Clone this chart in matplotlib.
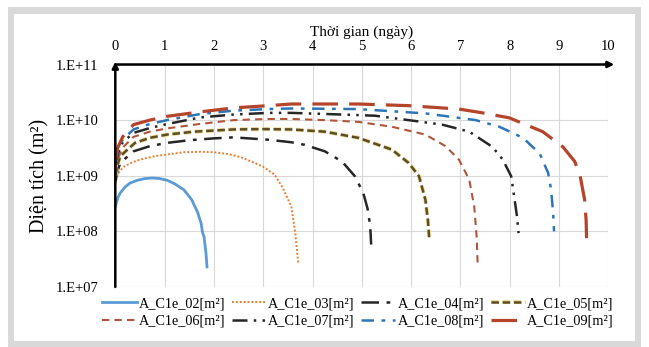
import matplotlib
matplotlib.use('Agg')
import matplotlib.pyplot as plt
import matplotlib.patheffects as pe
from matplotlib.patches import Rectangle

plt.rcParams['font.family'] = ['Liberation Serif', 'DejaVu Serif']

# du lieu doc tu hinh (thoi gian - ngay, dien tich - m2)
t02 = [0, 0.05, 0.1, 0.2, 0.3, 0.45, 0.6, 0.75, 0.9, 1.05, 1.2, 1.39, 1.55, 1.67, 1.74, 1.77, 1.80, 1.84, 1.86]
a02 = [2.8e8, 4.0e8, 4.9e8, 6.3e8, 7.4e8, 8.3e8, 8.9e8, 9.1e8, 8.9e8, 8.3e8, 7.2e8, 5.6e8, 3.7e8, 2.2e8, 1.4e8, 9.5e7, 8.0e7, 4.0e7, 2.3e7]

t03 = [0, 0.05, 0.17, 0.35, 0.5, 0.8, 1.1, 1.4, 1.73, 2.0, 2.3, 2.55, 2.76, 3.0, 3.23, 3.4, 3.57, 3.65, 3.71]
a03 = [7.1e8, 1.1e9, 1.45e9, 1.75e9, 1.95e9, 2.25e9, 2.45e9, 2.65e9, 2.7e9, 2.65e9, 2.45e9, 2.15e9, 1.8e9, 1.45e9, 1.05e9, 6.0e8, 2.8e8, 9.5e7, 2.7e7]

t04 = [0, 0.05, 0.1, 0.37, 0.7, 1.05, 1.5, 2.0, 2.4, 3.1, 3.57, 3.84, 4.25, 4.6, 4.86, 5.03, 5.12, 5.17, 5.19]
a04 = [7.9e8, 1.25e9, 1.7e9, 2.75e9, 3.4e9, 3.9e9, 4.35e9, 4.7e9, 4.9e9, 4.45e9, 4.0e9, 3.6e9, 2.75e9, 1.8e9, 9.8e8, 4.9e8, 2.5e8, 1.25e8, 5.8e7]

t05 = [0, 0.05, 0.1, 0.4, 0.7, 1.05, 1.6, 2.4, 3.0, 3.57, 4.25, 4.93, 5.61, 5.95, 6.16, 6.29, 6.34, 6.37]
a05 = [1.0e9, 1.6e9, 2.25e9, 3.9e9, 4.8e9, 5.5e9, 6.2e9, 6.8e9, 6.9e9, 6.8e9, 6.2e9, 4.8e9, 2.95e9, 1.7e9, 9.8e8, 3.7e8, 1.6e8, 7.0e7]

t06 = [0, 0.05, 0.15, 0.37, 0.7, 1.05, 1.7, 2.4, 3.1, 3.57, 4.25, 4.93, 5.61, 6.29, 6.7, 6.97, 7.18, 7.28, 7.33, 7.35]
a06 = [1.25e9, 2.0e9, 3.2e9, 5.0e9, 6.2e9, 7.1e9, 8.5e9, 1.0e10, 1.05e10, 1.05e10, 1.0e10, 9.3e9, 7.6e9, 5.5e9, 3.4e9, 1.95e9, 8.5e8, 2.8e8, 8.0e7, 2.6e7]

t07 = [0, 0.05, 0.15, 0.37, 0.7, 1.05, 1.73, 2.4, 3.1, 3.57, 4.6, 5.27, 5.95, 6.63, 7.18, 7.65, 7.86, 8.03, 8.1, 8.15, 8.18]
a07 = [1.6e9, 2.5e9, 4.0e9, 5.9e9, 7.2e9, 8.5e9, 1.12e10, 1.26e10, 1.35e10, 1.35e10, 1.26e10, 1.2e10, 1.0e10, 8.3e9, 6.2e9, 3.3e9, 1.95e9, 9.8e8, 3.7e8, 1.8e8, 9.3e7]

t08 = [0, 0.05, 0.15, 0.37, 0.7, 1.05, 1.73, 2.4, 3.1, 3.57, 4.93, 6.29, 7.31, 7.79, 8.27, 8.61, 8.78, 8.84, 8.88, 8.9]
a08 = [1.8e9, 2.8e9, 4.5e9, 6.8e9, 8.5e9, 1.0e10, 1.29e10, 1.48e10, 1.58e10, 1.62e10, 1.58e10, 1.32e10, 1.0e10, 7.6e9, 4.8e9, 2.5e9, 1.12e9, 5.6e8, 2.2e8, 1.0e8]

t09 = [0, 0.05, 0.15, 0.37, 0.7, 1.05, 1.73, 2.4, 3.1, 3.57, 4.93, 5.95, 6.97, 7.45, 7.99, 8.67, 9.08, 9.32, 9.43, 9.52, 9.55, 9.56]
a09 = [2.0e9, 3.2e9, 5.0e9, 8.3e9, 1.0e10, 1.17e10, 1.41e10, 1.66e10, 1.82e10, 1.95e10, 1.95e10, 1.82e10, 1.58e10, 1.35e10, 1.1e10, 6.2e9, 3.3e9, 1.8e9, 9.8e8, 3.7e8, 1.6e8, 7.1e7]

x_ticks = [0, 1, 2, 3, 4, 5, 6, 7, 8, 9, 10]
y_ticks = [1e7, 1e8, 1e9, 1e10, 1e11]
y_ticklabels = ['1.E+07', '1.E+08', '1.E+09', '1.E+10', '1.E+11']

fig = plt.figure(figsize=(6.49, 3.47), dpi=100)
fig.patch.set_facecolor('white')

# khung xam ben ngoai
W, H = 649, 347
fig.patches.append(Rectangle((8 / W, 0), 633 / W, 1 - 7 / H, transform=fig.transFigure,
                             facecolor='#d9d9d9', edgecolor='none', zorder=-10))
fig.patches.append(Rectangle((14 / W, 6 / H), 621 / W, 1 - 20 / H, transform=fig.transFigure,
                             facecolor='white', edgecolor='none', zorder=-9))

ax = fig.add_axes([115.3 / W, 1 - 287 / H, 493 / W, (287 - 64.5) / H])
ax.set_facecolor('none')
ax.set_yscale('log')
ax.set_xlim(0, 10)
ax.set_ylim(1e7, 1e11)

lines = []
l, = ax.plot(t02, a02, color='#5B9BD5', lw=2.0, ls='-', label='A_C1e_02[m²]')
lines.append(l)
l, = ax.plot(t03, a03, color='#ED7D31', lw=1.4, ls=(0, (1, 1)), label='A_C1e_03[m²]')
lines.append(l)
l, = ax.plot(t04, a04, color='#262626', lw=1.8, ls=(0, (7, 3, 1.5, 3)), label='A_C1e_04[m²]')
lines.append(l)
l, = ax.plot(t05, a05, color='#5C4E24', lw=1.8, ls=(0, (3, 1.5)), label='A_C1e_05[m²]',
             path_effects=[pe.Stroke(linewidth=3.0, foreground='#EEDB9A'), pe.Normal()])
lines.append(l)
l, = ax.plot(t06, a06, color='#B0553A', lw=1.5, ls=(0, (3.5, 2.5)), label='A_C1e_06[m²]')
lines.append(l)
l, = ax.plot(t07, a07, color='#262626', lw=1.8, ls=(0, (6, 2.5, 1, 2.5, 1, 2.5)), label='A_C1e_07[m²]')
lines.append(l)
l, = ax.plot(t08, a08, color='#2E75B6', lw=1.8, ls=(0, (5, 3, 1.5, 3)), label='A_C1e_08[m²]')
lines.append(l)
l, = ax.plot(t09, a09, color='#B4442A', lw=2.3, ls=(0, (8, 3.5)), label='A_C1e_09[m²]')
lines.append(l)

# luoi
ax.set_xticks(x_ticks)
ax.set_yticks(y_ticks)
ax.set_yticklabels(y_ticklabels)
ax.minorticks_off()
ax.grid(True, color='#d9d9d9', lw=0.8)
ax.set_axisbelow(True)
ax.xaxis.tick_top()
ax.xaxis.set_label_position('top')
ax.tick_params(axis='both', length=0, labelsize=10.5)
ax.tick_params(axis='x', pad=8)
ax.tick_params(axis='y', pad=12)
for s in ax.spines.values():
    s.set_visible(False)

# truc co mui ten
ax.annotate('', xy=(1.012, 1), xytext=(0, 1), xycoords='axes fraction',
            arrowprops=dict(arrowstyle='-|>', color='black', lw=1.8, mutation_scale=9,
                            shrinkA=0, shrinkB=0), annotation_clip=False)
ax.annotate('', xy=(0, 1.012), xytext=(0, 0), xycoords='axes fraction',
            arrowprops=dict(arrowstyle='-|>', color='black', lw=1.8, mutation_scale=9,
                            shrinkA=0, shrinkB=0), annotation_clip=False)

ax.set_xlabel('Thời gian (ngày)', fontsize=11, labelpad=3)
fig.text(40 / W, 1 - 176 / H, 'Diện tích (m²)', rotation=90, fontsize=14.5,
         ha='center', va='center')

order = [0, 4, 1, 5, 2, 6, 3, 7]
fig.legend([lines[i] for i in order], [lines[i].get_label() for i in order],
           loc='center', bbox_to_anchor=(358 / W, 1 - 312.5 / H), ncol=4, frameon=False,
           fontsize=10.3, handlelength=2.4, handletextpad=0.15, columnspacing=0.45,
           labelspacing=0.3, borderpad=0)

fig.savefig('out.png', dpi=100)
